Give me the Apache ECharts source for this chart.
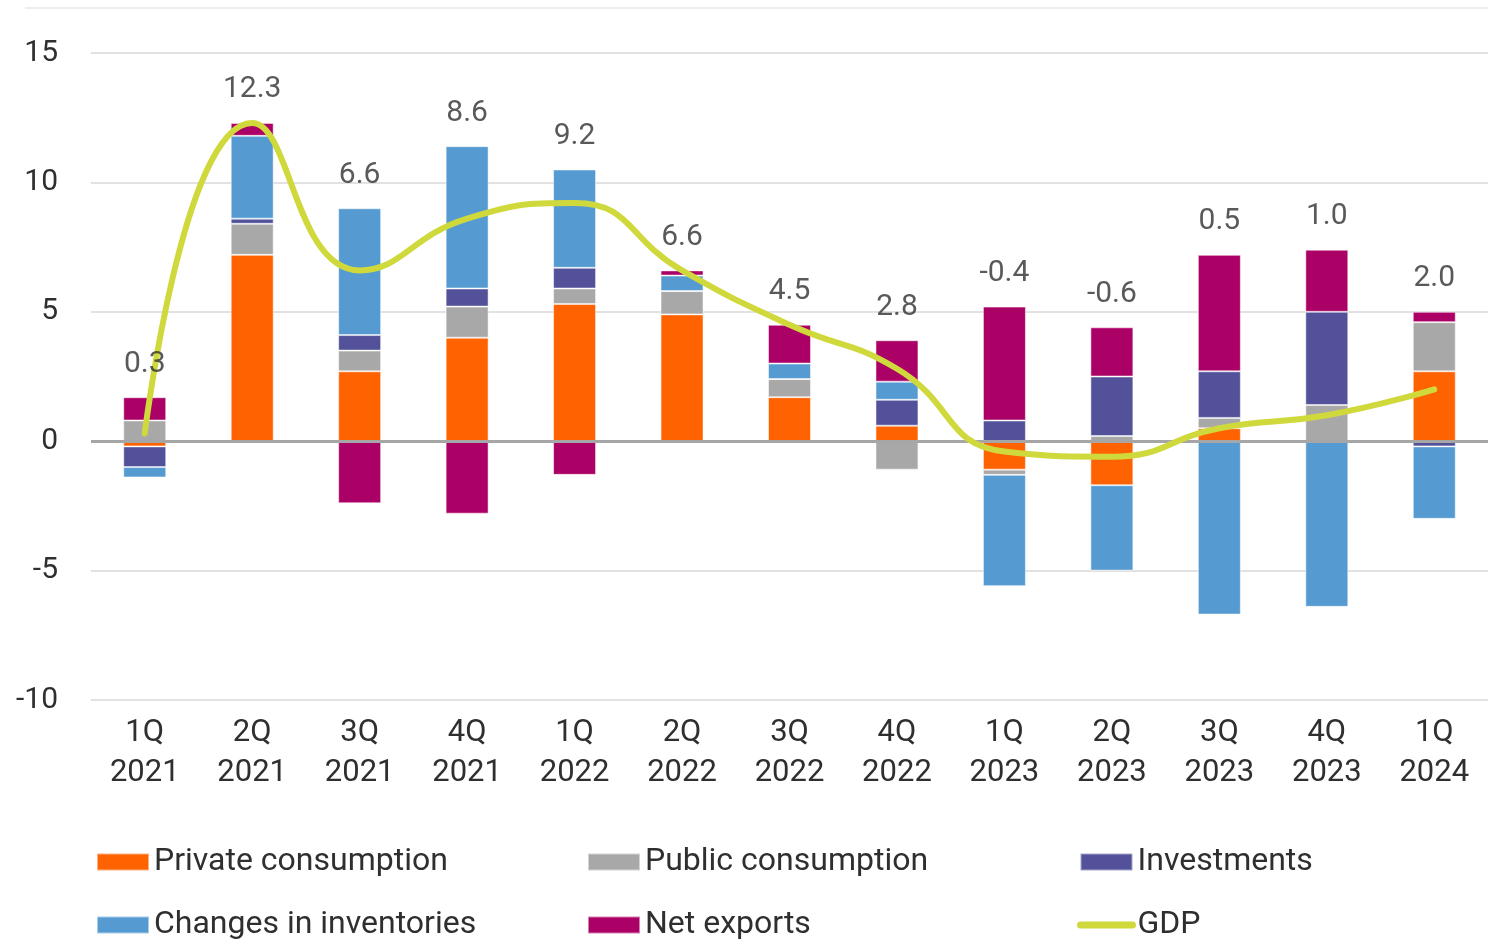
<!DOCTYPE html>
<html lang="en">
<head>
    <meta charset="UTF-8">
    <title>GDP contributions</title>
    <script src="https://cdn.jsdelivr.net/npm/echarts@6/dist/echarts.min.js"></script>
    <style>
        html, body { margin: 0; padding: 0; background: #fff; }
        #chart { width: 1488px; height: 939px; }
    </style>
</head>
<body>
    <div id="chart"></div>
    <script>
        var quarters = ['1Q\n2021', '2Q\n2021', '3Q\n2021', '4Q\n2021', '1Q\n2022', '2Q\n2022', '3Q\n2022',
                        '4Q\n2022', '1Q\n2023', '2Q\n2023', '3Q\n2023', '4Q\n2023', '1Q\n2024'];
        var privateCons = [-0.2, 7.2, 2.7, 4.0, 5.3, 4.9, 1.7, 0.6, -1.1, -1.7, 0.5, 0.0, 2.7];
        var publicCons  = [0.8, 1.2, 0.8, 1.2, 0.6, 0.9, 0.7, -1.1, -0.2, 0.2, 0.4, 1.4, 1.9];
        var investments = [-0.8, 0.2, 0.6, 0.7, 0.8, 0.0, 0.0, 1.0, 0.8, 2.3, 1.8, 3.6, -0.2];
        var inventories = [-0.4, 3.2, 4.9, 5.5, 3.8, 0.6, 0.6, 0.7, -4.3, -3.3, -6.7, -6.4, -2.8];
        var netExports  = [0.9, 0.5, -2.4, -2.8, -1.3, 0.2, 1.5, 1.6, 4.4, 1.9, 4.5, 2.4, 0.4];
        var gdp         = [0.3, 12.3, 6.6, 8.6, 9.2, 6.6, 4.5, 2.8, -0.4, -0.6, 0.5, 1.0, 2.0];
        var yTicks = [-10, -5, 0, 5, 10, 15];

        var font = 'Roboto';
        var textColor = '#2f2f2f';

        // top of the positive stack, where the GDP labels sit
        var parts = [privateCons, publicCons, investments, inventories, netExports];
        var positiveTop = quarters.map(function (q, i) {
            var s = 0;
            parts.forEach(function (p) { if (p[i] > 0) s += p[i]; });
            return s;
        });

        function barSeries(name, data, color) {
            return {
                name: name,
                type: 'bar',
                stack: 'gdp',
                barWidth: '40%',
                data: data,
                itemStyle: { color: color, borderColor: 'rgba(255,255,255,0.5)', borderWidth: 1 }
            };
        }

        var chart = echarts.init(document.getElementById('chart'));

        var legendText = { fontFamily: font, fontSize: 32, color: textColor, lineHeight: 30 };
        function legendCol(left, names) {
            return {
                orient: 'vertical',
                left: left,
                top: 846,
                height: 150,
                padding: 0,
                icon: 'rect',
                itemWidth: 52,
                itemHeight: 17,
                itemGap: 31,
                data: names,
                textStyle: legendText,
                selectedMode: false
            };
        }

        var netSeries = barSeries('Net exports', netExports, '#AB0066');
        netSeries.markLine = {
            silent: true,
            symbol: 'none',
            label: { show: false },
            lineStyle: { color: '#a6a6a6', width: 3, type: 'solid' },
            data: [{ yAxis: 0 }]
        };

        var gdpLegend = legendCol(1077, [
            { name: 'Investments', icon: 'rect' },
            { name: 'GDP', itemStyle: { opacity: 0 }, lineStyle: { width: 7, cap: 'round', color: '#D0D93C' } }
        ]);
        delete gdpLegend.icon;

        var option = {
            animation: false,
            textStyle: { fontFamily: font },
            graphic: [{
                type: 'line',
                shape: { x1: 25, y1: 8, x2: 1488, y2: 8 },
                style: { stroke: '#eeeeee', lineWidth: 2 }
            }],
            legend: [
                legendCol(96, ['Private consumption', 'Changes in inventories']),
                legendCol(587, ['Public consumption', 'Net exports']),
                gdpLegend
            ],
            grid: { left: 91, right: -7, top: 53, bottom: 239 },
            xAxis: {
                type: 'category',
                data: quarters,
                axisLine: { show: false },
                axisTick: { show: false },
                axisLabel: {
                    margin: 13,
                    fontFamily: font,
                    fontSize: 31,
                    lineHeight: 40,
                    color: textColor
                }
            },
            yAxis: {
                type: 'value',
                min: yTicks[0],
                max: yTicks[yTicks.length - 1],
                interval: 5,
                axisLine: { show: false },
                axisTick: { show: false },
                axisLabel: { margin: 33, fontFamily: font, fontSize: 30, color: textColor },
                splitLine: { lineStyle: { color: '#e2e2e2', width: 2 } }
            },
            series: [
                barSeries('Private consumption', privateCons, '#FF6200'),
                barSeries('Public consumption', publicCons, '#A8A8A8'),
                barSeries('Investments', investments, '#525199'),
                barSeries('Changes in inventories', inventories, '#559BD1'),
                netSeries,
                {
                    name: 'GDP',
                    type: 'line',
                    data: gdp,
                    smooth: 0.5,
                    symbol: 'none',
                    z: 5,
                    lineStyle: { color: '#D0D93C', width: 6, cap: 'round' },
                    itemStyle: { color: '#D0D93C' }
                },
                {
                    name: 'labels',
                    type: 'scatter',
                    data: positiveTop,
                    symbolSize: 0,
                    silent: true,
                    z: 6,
                    label: {
                        show: true,
                        position: 'top',
                        distance: 18,
                        fontFamily: font,
                        fontSize: 30,
                        color: textColor,
                        formatter: function (p) { return gdp[p.dataIndex].toFixed(1); }
                    }
                }
            ]
        };

        chart.setOption(option);
    </script>
</body>
</html>
